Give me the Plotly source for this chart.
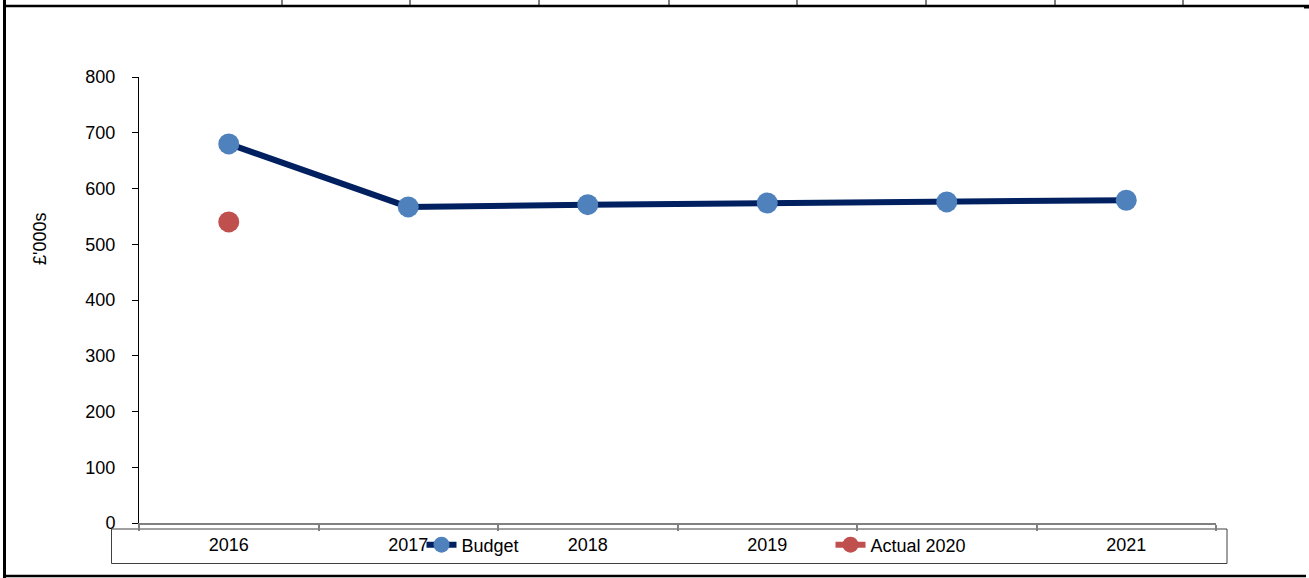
import plotly.graph_objects as go

# ---- data -------------------------------------------------------------
years = ["2016", "2017", "2018", "2019", "2020", "2021"]
budget = [680, 567, 571, 574, 576, 579]
actual_years = ["2016"]
actual_2020 = [540]
y_ticks = [0, 100, 200, 300, 400, 500, 600, 700, 800]

# ---- page geometry (pixels) -------------------------------------------
W, H = 1309, 578
PL, PR, PT, PB = 139, 1216, 77, 523  # plot area edges
FONT = "Liberation Sans, Arial, sans-serif"
FS = 18


def px_x(x):
    return (x - PL) / (PR - PL)


def px_y(y):
    return (PB - y) / (PB - PT)


fig = go.Figure()
fig.add_trace(go.Scatter(
    x=years, y=budget, name="Budget", mode="lines+markers",
    line=dict(color="#002060", width=6),
    marker=dict(color="#4F81BD", size=21),
    legend="legend",
))
fig.add_trace(go.Scatter(
    x=actual_years, y=actual_2020, name="Actual 2020", mode="lines+markers",
    line=dict(color="#C0504D", width=6),
    marker=dict(color="#C0504D", size=21),
    legend="legend2",
))

shapes = []
# frame of the category strip under the axis
shapes.append(dict(type="rect", xref="paper", yref="paper",
                   x0=px_x(111.5), x1=px_x(1227), y0=px_y(563.5), y1=px_y(529),
                   line=dict(color="#404040", width=1), layer="below"))
# backing for the Actual key, which sits over the category labels
shapes.append(dict(type="rect", xref="paper", yref="paper",
                   x0=px_x(868), x1=px_x(972), y0=px_y(558), y1=px_y(533),
                   line=dict(width=0), fillcolor="#FFFFFF", layer="above"))
# page border: top, left, bottom
blk = "#000000"
shapes.append(dict(type="line", xref="paper", yref="paper",
                   x0=px_x(3), x1=px_x(1309), y0=px_y(6), y1=px_y(6),
                   line=dict(color=blk, width=2.5)))
shapes.append(dict(type="line", xref="paper", yref="paper",
                   x0=px_x(4.5), x1=px_x(4.5), y0=px_y(0), y1=px_y(578),
                   line=dict(color=blk, width=3)))
shapes.append(dict(type="line", xref="paper", yref="paper",
                   x0=px_x(3), x1=px_x(1306), y0=px_y(576), y1=px_y(576),
                   line=dict(color=blk, width=2.5)))
shapes.append(dict(type="rect", xref="paper", yref="paper",
                   x0=px_x(1304), x1=px_x(1309), y0=px_y(8.5), y1=px_y(5),
                   line=dict(width=0), fillcolor=blk))
# cell dividers of the table row above
for cx in [282, 410, 539, 669, 797, 926, 1055, 1183]:
    shapes.append(dict(type="line", xref="paper", yref="paper",
                       x0=px_x(cx), x1=px_x(cx), y0=px_y(0), y1=px_y(6),
                       line=dict(color=blk, width=1)))

legend_common = dict(xref="container", yref="container",
                     xanchor="left", yanchor="middle", orientation="h",
                     borderwidth=0, bgcolor="rgba(0,0,0,0)",
                     font=dict(family=FONT, size=FS, color="#000000"))

fig.update_layout(
    width=W, height=H,
    margin=dict(l=PL, r=W - PR, t=PT, b=H - PB, pad=0, autoexpand=False),
    paper_bgcolor="white", plot_bgcolor="white",
    font=dict(family=FONT, size=FS, color="#000000"),
    shapes=shapes,
    showlegend=True,
    legend=dict(x=421.5 / W, y=1 - 545 / H, **legend_common),
    legend2=dict(x=830.5 / W, y=1 - 545 / H, **legend_common),
    annotations=[dict(text="£'000s", xref="paper", yref="paper",
                      x=px_x(40), y=px_y(239), xanchor="center", yanchor="middle",
                      textangle=-90, showarrow=False,
                      font=dict(family=FONT, size=FS, color="#000000"))],
)

fig.update_xaxes(
    type="category", categoryorder="array", categoryarray=years,
    range=[-0.5, len(years) - 0.5],
    showline=True, linecolor="#808080", linewidth=2,
    ticks="outside", tickson="boundaries", ticklen=6, tickcolor="#808080", tickwidth=1.5,
    showgrid=False, zeroline=False, ticklabelstandoff=4,
)
fig.update_yaxes(
    range=[0, 800], tickvals=y_ticks,
    showline=True, linecolor="#000000", linewidth=1,
    ticks="outside", ticklen=6, tickcolor="#000000", tickwidth=1,
    showgrid=False, zeroline=False, ticklabelstandoff=13,
)

fig.write_html("out.html")
